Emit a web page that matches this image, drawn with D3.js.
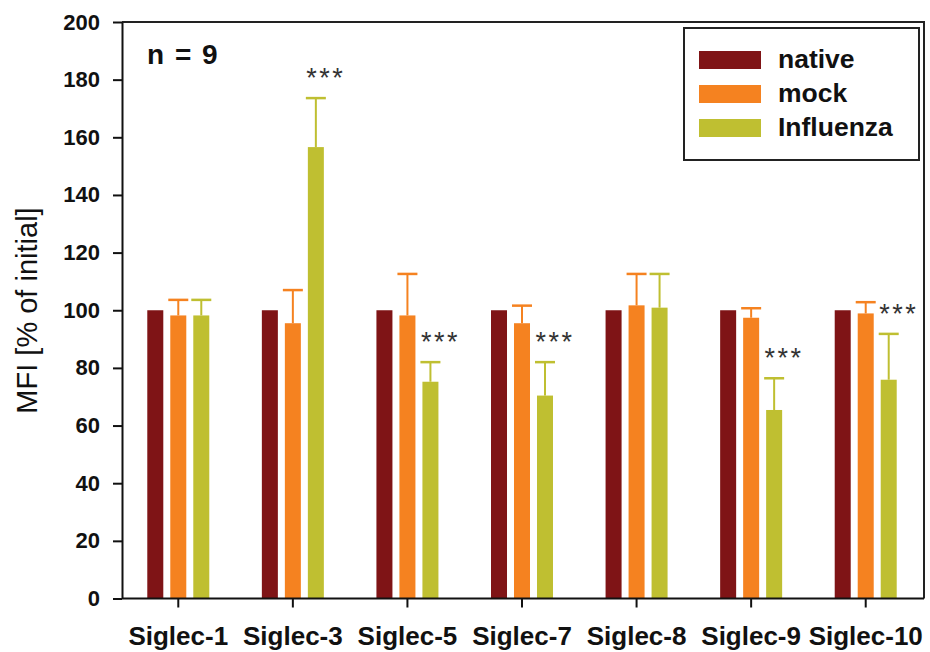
<!DOCTYPE html>
<html>
<head>
<meta charset="utf-8">
<script src="https://cdn.jsdelivr.net/npm/d3@7"></script>
<style>
  html, body { margin: 0; padding: 0; background: #fff; }
  svg { display: block; font-family: "Liberation Sans", Arial, sans-serif; }
</style>
</head>
<body>
<svg id="chart" width="930" height="652"></svg>
<script>
// Siglec expression after stimulation (MFI, % of initial), n = 9
const categories = ["Siglec-1", "Siglec-3", "Siglec-5", "Siglec-7", "Siglec-8", "Siglec-9", "Siglec-10"];
const seriesNames = ["native", "mock", "Influenza"];
const nativeValues = [100, 100, 100, 100, 100, 100, 100];
const mockValues = [98.2, 95.5, 98.2, 95.5, 101.7, 97.4, 98.9];
const mockErrors = [5.4, 11.5, 14.4, 6.1, 10.9, 3.3, 3.9];
const influenzaValues = [98.2, 156.6, 75.2, 70.4, 100.9, 65.4, 75.9];
const influenzaErrors = [5.4, 17.0, 6.8, 11.6, 11.7, 11.0, 15.9];
const significance = ["", "***", "***", "***", "", "***", "***"];
const yTicks = [0, 20, 40, 60, 80, 100, 120, 140, 160, 180, 200];
const colors = ["#7f1416", "#f58220", "#bfbf31"];

const seriesValues = [nativeValues, mockValues, influenzaValues];
const seriesErrors = [null, mockErrors, influenzaErrors];

const svg = d3.select("#chart");
const plotLeft = 122, plotRight = 924, plotTop = 22, plotBottom = 598.5;

const x = d3.scaleBand().domain(categories).range([plotLeft - 1, plotRight - 1]).padding(0);
const xSub = d3.scaleBand().domain(seriesNames).range([-31, 31]).paddingInner(0.304).paddingOuter(0);
const y = d3.scaleLinear().domain([0, 200]).range([plotBottom, plotTop]);

// Bars and upward error bars
seriesNames.forEach((name, s) => {
  const g = svg.append("g").attr("class", "series-" + s);
  const vals = seriesValues[s];
  const cx = (i) => x(categories[i]) + x.bandwidth() / 2 + xSub(name);
  g.selectAll("rect").data(vals).join("rect")
    .attr("x", (d, i) => cx(i))
    .attr("y", d => y(d))
    .attr("width", xSub.bandwidth())
    .attr("height", d => y(0) - y(d))
    .attr("fill", colors[s]);
  const errs = seriesErrors[s];
  if (errs) {
    const mid = (i) => cx(i) + xSub.bandwidth() / 2;
    g.selectAll("line.stem").data(vals).join("line")
      .attr("class", "stem")
      .attr("x1", (d, i) => mid(i)).attr("x2", (d, i) => mid(i))
      .attr("y1", d => y(d)).attr("y2", (d, i) => y(d + errs[i]))
      .attr("stroke", colors[s]).attr("stroke-width", 2);
    g.selectAll("line.cap").data(vals).join("line")
      .attr("class", "cap")
      .attr("x1", (d, i) => mid(i) - 10).attr("x2", (d, i) => mid(i) + 10)
      .attr("y1", (d, i) => y(d + errs[i])).attr("y2", (d, i) => y(d + errs[i]))
      .attr("stroke", colors[s]).attr("stroke-width", 2.5);
  }
});

// Significance markers above the Influenza error bars
svg.append("g").selectAll("text").data(significance).join("text")
  .attr("x", (d, i) => x(categories[i]) + x.bandwidth() / 2 + xSub("Influenza") + xSub.bandwidth() / 2 + 10)
  .attr("y", (d, i) => y(influenzaValues[i] + influenzaErrors[i]) - 11)
  .attr("text-anchor", "middle")
  .attr("font-size", 27)
  .attr("letter-spacing", 2.5)
  .attr("fill", "#333")
  .text(d => d);

// Frame (top and right)
svg.append("path")
  .attr("d", `M${plotLeft},${plotTop}H${plotRight}V${plotBottom}`)
  .attr("fill", "none").attr("stroke", "#222").attr("stroke-width", 2);

// Y axis
const yAxis = svg.append("g").attr("transform", `translate(${plotLeft},0)`)
  .call(d3.axisLeft(y).tickValues(yTicks).tickSize(9).tickPadding(13).tickSizeOuter(0));
yAxis.select(".domain").attr("stroke", "#111").attr("stroke-width", 2);
yAxis.selectAll(".tick line").attr("stroke", "#111").attr("stroke-width", 2);
yAxis.selectAll(".tick text")
  .attr("font-family", "'Liberation Sans', Arial, sans-serif")
  .attr("font-size", 22).attr("font-weight", "bold").attr("fill", "#111");

// X axis
const xAxis = svg.append("g").attr("transform", `translate(0,${plotBottom})`)
  .call(d3.axisBottom(x).tickSize(9).tickPadding(19).tickSizeOuter(0));
xAxis.select(".domain").attr("d", `M${plotLeft},0H${plotRight}`).attr("stroke", "#111").attr("stroke-width", 2);
xAxis.selectAll(".tick line").attr("stroke", "#111").attr("stroke-width", 2);
xAxis.selectAll(".tick text")
  .attr("font-family", "'Liberation Sans', Arial, sans-serif")
  .attr("font-size", 26).attr("font-weight", "bold").attr("fill", "#111");

// Y axis title
svg.append("text")
  .attr("transform", "translate(37,310.5) rotate(-90)")
  .attr("text-anchor", "middle")
  .attr("font-size", 29)
  .attr("fill", "#111")
  .text("MFI [% of initial]");

// Sample size
svg.append("text")
  .attr("x", 147).attr("y", 64)
  .attr("font-size", 28).attr("font-weight", "bold").attr("fill", "#111")
  .attr("word-spacing", 3)
  .text("n = 9");

// Legend
const legend = svg.append("g");
legend.append("rect")
  .attr("x", 684).attr("y", 28).attr("width", 235).attr("height", 132)
  .attr("fill", "#fff").attr("stroke", "#222").attr("stroke-width", 2);
seriesNames.forEach((name, s) => {
  legend.append("rect")
    .attr("x", 699).attr("y", 51 + s * 34).attr("width", 62).attr("height", 18)
    .attr("fill", colors[s]);
  legend.append("text")
    .attr("x", 778).attr("y", 68 + s * 34)
    .attr("font-size", 26.5).attr("font-weight", "bold").attr("fill", "#111")
    .text(name);
});
</script>
</body>
</html>
